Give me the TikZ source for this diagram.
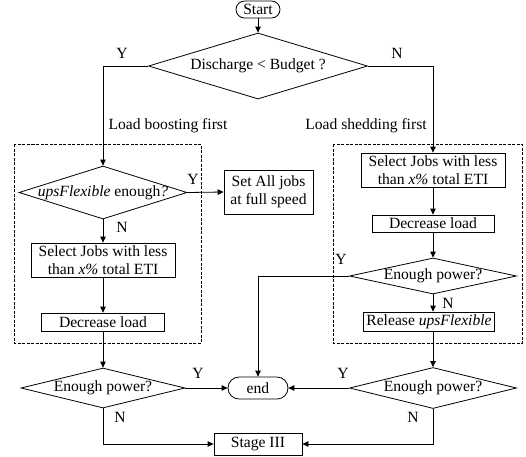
\documentclass[tikz,border=0pt]{standalone}
\usepackage{fontspec}
\setmainfont{Liberation Serif}
\usetikzlibrary{arrows.meta,shapes.geometric}
\begin{document}
\begin{tikzpicture}[x=1pt,y=-1pt,
  font=\fontsize{15.6}{18}\selectfont,
  line width=0.8pt,
  >={Triangle[length=6pt,width=5.5pt]},
  box/.style={draw, rectangle, inner sep=0pt, align=center},
  term/.style={draw, rectangle, inner sep=0pt},
  dia/.style={draw, diamond, inner sep=0pt},
  lbl/.style={inner sep=0pt},
  grp/.style={draw, dash pattern=on 3pt off 1.5pt, line width=0.7pt}]
\useasboundingbox (0,0) rectangle (526,456);
% groups
\draw[grp] (14,144) rectangle (201,343);
\draw[grp] (333,144) rectangle (522,343);
% nodes
\node[term, rounded corners=8.5pt, minimum width=44pt, minimum height=17pt] (start) at (258,9.5) {Start};
\node[dia, minimum width=219pt, minimum height=66pt, label=center:{Discharge < Budget ?}] (d1) at (258,66) {};
\node[dia, minimum width=168pt, minimum height=53pt, label=center:{\textit{upsFlexible} enough\textit{?}}] (d2) at (103,192.5) {};
\node[box, minimum width=89pt, minimum height=44pt] (set) at (268.5,192) {Set All jobs\\at full speed};
\node[box, minimum width=144pt, minimum height=34pt] (sel1) at (103,260) {Select Jobs with less\\than \textit{x\%} total ETI};
\node[box, minimum width=123pt, minimum height=18pt] (dec1) at (103,322) {Decrease load};
\node[dia, minimum width=164pt, minimum height=40pt, label=center:{Enough power?}] (d3) at (103,388) {};
\node[term, rounded corners=11pt, minimum width=60pt, minimum height=22pt] (end) at (258,388) {end};
\node[dia, minimum width=167pt, minimum height=41pt, label=center:{Enough power?}] (d4) at (433,388) {};
\node[box, minimum width=88pt, minimum height=22pt] (stage) at (258,444) {Stage III};
\node[box, minimum width=144pt, minimum height=34pt] (sel2) at (433,170) {Select Jobs with less\\than \textit{x\%} total ETI};
\node[box, minimum width=122pt, minimum height=17pt] (dec2) at (433,223.5) {Decrease load};
\node[dia, minimum width=167pt, minimum height=36pt, label=center:{Enough power?}] (d5) at (433,276) {};
\node[box, minimum width=131pt, minimum height=19pt] (rel) at (429,321.5) {Release \textit{upsFlexible}};
% labels
\node[lbl] (y1) at (122,53) {Y};
\node[lbl] (n1) at (397,53) {N};
\node[lbl] (lb) at (168,126) {Load boosting first};
\node[lbl] (ls) at (366,126) {Load shedding first};
\node[lbl] (y2) at (193,179) {Y};
\node[lbl] (n2) at (122,227) {N};
\node[lbl] (y5) at (341,259) {Y};
\node[lbl] (n5) at (448,303) {N};
\node[lbl] (y3) at (198,373) {Y};
\node[lbl] (y4) at (343,373) {Y};
\node[lbl] (n3) at (120,417) {N};
\node[lbl] (n4) at (413,417) {N};
% connectors
\draw[->] (start) -- (d1);
\draw[->] (d1.west) -| (d2.north);
\draw[->] (d1.east) -| (sel2.north);
\draw[->] (d2.east) -- (set.west);
\draw[->] (d2.south) -- (sel1.north);
\draw[->] (sel1) -- (dec1);
\draw[->] (dec1) -- (d3.north);
\draw[->] (d3.east) -- (end.west);
\draw[->] (d3.south) |- (stage.west);
\draw[->] (sel2) -- (dec2);
\draw[->] (dec2) -- (d5.north);
\draw[->] (d5.west) -| (end.north);
\draw[->] (d5.south) -- (d5.south |- rel.north);
\draw[->] (rel.south -| d4.north) -- (d4.north);
\draw[->] (d4.west) -- (end.east);
\draw[->] (d4.south) |- (stage.east);
\end{tikzpicture}
\end{document}
